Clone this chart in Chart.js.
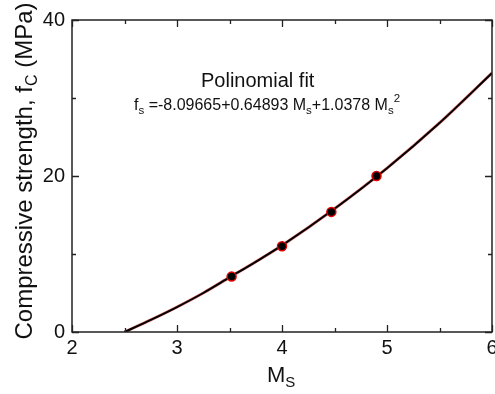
<!DOCTYPE html>
<html>
<head>
<meta charset="utf-8">
<script src="https://cdn.jsdelivr.net/npm/chart.js@4/dist/chart.umd.min.js"></script>
<style>
html, body { margin: 0; padding: 0; background: #fff; }
#wrap { width: 495px; height: 394px; }
</style>
</head>
<body>
<div id="wrap"><canvas id="chart" width="495" height="394"></canvas></div>
<script>
// fitted curve
const fitX = [2.5, 2.75, 3, 3.25, 3.5, 3.75, 4, 4.5, 5, 5.5, 6];
const fitY = [0, 1.55, 3.2, 5.0, 7.0, 9.0, 11.1, 15.8, 21.0, 26.8, 33.2];
// measured points
const measX = [3.52, 4.0, 4.47, 4.9];
const measY = [7.1, 11.0, 15.4, 20.0];
// ticks
const xMajor = [2, 3, 4, 5, 6];
const xMinor = [2.5, 3.5, 4.5, 5.5];
const yMajor = [0, 20, 40];
const yMinor = [10, 30];

const FONT = '"Liberation Sans", Arial, sans-serif';
const INK = '#111';

const toXY = (xs, ys) => xs.map((x, i) => ({ x: x, y: ys[i] }));

function runsWidth(ctx, runs) {
	let w = 0;
	runs.forEach(r => {
		ctx.font = r.size + 'px ' + FONT;
		w += ctx.measureText(r.t).width;
	});
	return w;
}
function drawRuns(ctx, runs, x, y) {
	let cx = x;
	runs.forEach(r => {
		ctx.font = r.size + 'px ' + FONT;
		ctx.fillText(r.t, cx, y + (r.dy || 0));
		cx += ctx.measureText(r.t).width;
	});
}

const frame = {
	id: 'frame',
	afterDraw(chart) {
		const ctx = chart.ctx;
		const a = chart.chartArea;
		const sx = chart.scales.x, sy = chart.scales.y;
		ctx.save();
		ctx.strokeStyle = '#222';
		ctx.lineWidth = 1.5;
		ctx.strokeRect(a.left, a.top, a.right - a.left, a.bottom - a.top);
		ctx.lineWidth = 1.3;
		ctx.beginPath();
		const xt = (v, len) => {
			const px = Math.round(sx.getPixelForValue(v)) + 0.5;
			ctx.moveTo(px, a.bottom); ctx.lineTo(px, a.bottom - len);
			ctx.moveTo(px, a.top); ctx.lineTo(px, a.top + len);
		};
		const yt = (v, len) => {
			const py = Math.round(sy.getPixelForValue(v)) + 0.5;
			ctx.moveTo(a.left, py); ctx.lineTo(a.left + len, py);
			ctx.moveTo(a.right, py); ctx.lineTo(a.right - len, py);
		};
		xMajor.forEach(v => xt(v, 7));
		xMinor.forEach(v => xt(v, 4));
		yMajor.forEach(v => yt(v, 7));
		yMinor.forEach(v => yt(v, 4));
		ctx.stroke();

		ctx.fillStyle = INK;
		ctx.textBaseline = 'alphabetic';
		ctx.textAlign = 'left';

		// y title
		const yRuns = [
			{ t: 'Compressive strength, f', size: 24 },
			{ t: 'C', size: 16, dy: 5 },
			{ t: ' (MPa)', size: 24 }
		];
		ctx.save();
		ctx.translate(32, 171);
		ctx.rotate(-Math.PI / 2);
		drawRuns(ctx, yRuns, -runsWidth(ctx, yRuns) / 2, 0);
		ctx.restore();

		// x title
		drawRuns(ctx, [
			{ t: 'M', size: 22 },
			{ t: 'S', size: 15, dy: 5 }
		], 267, 382);

		// annotation
		ctx.font = '20px ' + FONT;
		ctx.fillText('Polinomial fit', 201, 87);
		drawRuns(ctx, [
			{ t: 'f', size: 16 },
			{ t: 's', size: 11.5, dy: 4 },
			{ t: ' =-8.09665+0.64893 M', size: 16 },
			{ t: 's', size: 11.5, dy: 4 },
			{ t: '+1.0378 M', size: 16 },
			{ t: 's', size: 11.5, dy: 4 },
			{ t: '2', size: 11.5, dy: -8 }
		], 134, 110);
		ctx.restore();
	}
};

new Chart(document.getElementById('chart'), {
	type: 'scatter',
	data: {
		datasets: [
			{
				data: toXY(measX, measY),
				showLine: false,
				pointRadius: 4.5,
				pointBackgroundColor: '#000',
				pointBorderColor: '#e00000',
				pointBorderWidth: 1.5,
				order: 0
			},
			{
				data: toXY(fitX, fitY),
				showLine: true,
				borderColor: '#000',
				borderWidth: 2,
				pointRadius: 0,
				cubicInterpolationMode: 'monotone',
				order: 1
			},
			{
				data: toXY(fitX, fitY),
				showLine: true,
				borderColor: 'rgba(210,0,0,0.55)',
				borderWidth: 3,
				pointRadius: 0,
				cubicInterpolationMode: 'monotone',
				order: 2
			}
		]
	},
	options: {
		responsive: false,
		animation: false,
		layout: { autoPadding: false, padding: { top: 20, right: 3, left: 0, bottom: 0 } },
		plugins: { legend: { display: false }, tooltip: { enabled: false } },
		scales: {
			x: {
				min: 2, max: 6,
				grid: { display: false, drawTicks: false },
				border: { display: false },
				ticks: { stepSize: 1, autoSkip: false, maxRotation: 0, padding: 4, color: INK, font: { size: 20, family: FONT } },
				afterFit(s) { s.height = 62; s.paddingLeft = 0; s.paddingRight = 0; }
			},
			y: {
				min: 0, max: 40,
				grid: { display: false, drawTicks: false },
				border: { display: false },
				ticks: { stepSize: 20, padding: 7, color: INK, font: { size: 20, family: FONT } },
				afterFit(s) { s.width = 72; }
			}
		}
	},
	plugins: [frame]
});
</script>
</body>
</html>
